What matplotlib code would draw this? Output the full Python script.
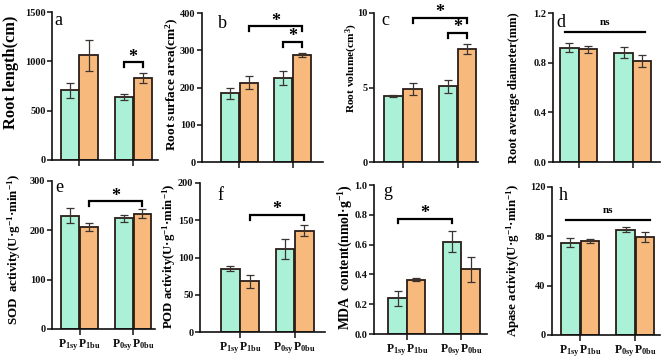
import numpy as np
import matplotlib
matplotlib.use('Agg')
import matplotlib.pyplot as plt

plt.rcParams['font.family'] = ['Liberation Serif', 'DejaVu Serif']
plt.rcParams['font.weight'] = 'bold'
plt.rcParams['mathtext.fontset'] = 'custom'
plt.rcParams['mathtext.rm'] = 'Liberation Serif'
plt.rcParams['mathtext.bf'] = 'Liberation Serif:bold'
plt.rcParams['mathtext.it'] = 'Liberation Serif:italic'

# ---------------- data ----------------
groups = ['P1', 'P0']
xtick_labels = [r'$\mathbf{P}_{\mathrm{1sy}}\,\mathbf{P}_{\mathrm{1bu}}$',
                r'$\mathbf{P}_{\mathrm{0sy}}\,\mathbf{P}_{\mathrm{0bu}}$']
panel_letters = ['a', 'b', 'c', 'd', 'e', 'f', 'g', 'h']

ylabels = ['Root length(cm)',
           r'Root surface area(cm$^{\mathbf{2}}$)',
           r'Root volume(cm$^{\mathbf{3}}$)',
           'Root average diameter(mm)',
           r'SOD  activity(U·g$^{\mathbf{-1}}$·min$^{\mathbf{-1}}$)',
           r'POD activity(U·g$^{\mathbf{-1}}$·min$^{\mathbf{-1}}$)',
           r'MDA  content(nmol·g$^{\mathbf{-1}}$)',
           r'Apase activity(U·g$^{\mathbf{-1}}$·min$^{\mathbf{-1}}$)']

sy_vals = [[709, 642], [184, 226], [4.46, 5.07], [0.921, 0.88],
           [230, 224], [85, 111], [0.24, 0.62], [75, 85.5]]
bu_vals = [[1061, 828], [213, 287], [4.89, 7.6], [0.908, 0.813],
           [207, 234], [68, 136], [0.365, 0.434], [76.5, 79.5]]
sy_errs = [[76, 29], [16, 18], [0.07, 0.42], [0.035, 0.046],
           [16, 8], [3, 13.5], [0.05, 0.073], [4, 2]]
bu_errs = [[160, 50], [17, 5], [0.38, 0.34], [0.03, 0.046],
           [8, 9], [9, 7], [0.01, 0.084], [1.5, 4]]

yticks = [[0, 500, 1000, 1500], [0, 100, 200, 300, 400], [0, 5, 10],
          [0.0, 0.4, 0.8, 1.2], [0, 100, 200, 300], [0, 50, 100, 150, 200],
          [0.0, 0.2, 0.4, 0.6, 0.8, 1.0], [0, 40, 80, 120]]
yfmt = ['{:.0f}', '{:.0f}', '{:.0f}', '{:.1f}', '{:.0f}', '{:.0f}', '{:.1f}', '{:.0f}']

# significance brackets: (bar index i, bar index j, height)
brackets = [[(2, 3, 990)],
            [(1, 3, 364), (2, 3, 322)],
            [(1, 3, 9.66), (2, 3, 8.65)],
            [],
            [(1, 3, 259)],
            [(1, 3, 157)],
            [(0, 2, 0.772)],
            []]
# 'ns' lines: (x start, x end, height)
ns_lines = [None, None, None, (-0.25, 1.22, 1.05), None, None, None, (-0.25, 1.27, 93.6)]

# ---------------- layout ----------------
W, H = 669, 359
boxes = [(52, 12, 158, 160), (202, 13, 323, 162), (374, 13, 478, 162), (553, 13, 660, 162),
         (52, 181, 155, 329), (200, 183, 325, 332), (374, 185, 487, 334), (552, 187, 660, 335)]
xlims = [(-0.5, 1.46), (-0.69, 1.56), (-0.53, 1.37), (-0.48, 1.5),
         (-0.52, 1.41), (-0.73, 1.55), (-0.61, 1.48), (-0.51, 1.45)]
ylabel_pos = [(11, 72, 11.8), (172, 84, 9.6), (352, 68, 8.2), (514, 88, 9.0),
              (14, 250, 9.4), (169, 256, 9.2), (346, 257, 9.9), (513, 260, 9.3)]
letter_pos = [(58, 25), (222, 28), (385, 25), (561, 27),
              (59, 192), (220, 200), (388, 196), (563, 200)]

green = '#aaf1d7'
orange = '#f8b97d'
edge = '#2a1e18'
errc = '#3a3330'

fig = plt.figure(figsize=(W / 100, H / 100), dpi=100)

def rect(l, t, r, b):
    return [l / W, 1 - b / H, (r - l) / W, (b - t) / H]

off = 0.175
bw = 0.335
x = np.arange(len(groups))

for k in range(8):
    ax = fig.add_axes(rect(*boxes[k]))
    xs_sy = x - off
    xs_bu = x + off
    ax.bar(xs_sy, sy_vals[k], bw, color=green, edgecolor=edge, linewidth=1.3, zorder=2)
    ax.bar(xs_bu, bu_vals[k], bw, color=orange, edgecolor=edge, linewidth=1.3, zorder=2)
    ax.errorbar(xs_sy, sy_vals[k], yerr=sy_errs[k], fmt='none', ecolor=errc,
                elinewidth=0.9, capsize=3.2, capthick=0.9, zorder=3)
    ax.errorbar(xs_bu, bu_vals[k], yerr=bu_errs[k], fmt='none', ecolor=errc,
                elinewidth=0.9, capsize=3.2, capthick=0.9, zorder=3)

    yt = yticks[k]
    ax.set_ylim(yt[0], yt[-1])
    ax.set_xlim(*xlims[k])
    ax.set_yticks(yt)
    ax.set_yticklabels([yfmt[k].format(v) for v in yt], fontsize=7.5, fontweight='bold')
    ax.set_xticks(x)
    if k >= 4:
        ax.set_xticklabels(xtick_labels, fontsize=8.5)
    else:
        ax.set_xticklabels([])
    for s in ['top', 'right']:
        ax.spines[s].set_visible(False)
    for s in ['left', 'bottom']:
        ax.spines[s].set_linewidth(1.2)
        ax.spines[s].set_color('#111111')
    ax.tick_params(axis='y', direction='out', length=3.5, width=1.1, pad=1.2, colors='#111111')
    ax.tick_params(axis='x', direction='out', length=4, width=1.1, pad=2, colors='#111111')

    yr = yt[-1] - yt[0]
    px = yr / (boxes[k][3] - boxes[k][1])
    barx = [x[0] - off, x[0] + off, x[1] - off, x[1] + off]
    for (i, j, yb) in brackets[k]:
        ax.plot([barx[i], barx[i], barx[j], barx[j]],
                [yb - 4.5 * px, yb, yb, yb - 4.5 * px],
                color='black', lw=1.6, clip_on=False, solid_joinstyle='miter', zorder=4)
        ax.annotate('*', xy=((barx[i] + barx[j]) / 2, yb), xytext=(0, 0.5),
                    textcoords='offset points', ha='center', va='baseline',
                    fontsize=13, fontweight='bold', annotation_clip=False)
    if ns_lines[k] is not None:
        x0, x1, yn = ns_lines[k]
        ax.plot([x0, x1], [yn, yn], color='black', lw=1.6, clip_on=False, zorder=4)
        ax.annotate('ns', xy=((x0 + x1) / 2, yn), xytext=(0, 5),
                    textcoords='offset points', ha='center', va='baseline',
                    fontsize=8, fontweight='bold', annotation_clip=False)

    lx, ly, fs = ylabel_pos[k]
    fig.text(lx / W, 1 - ly / H, ylabels[k], rotation=90, ha='center', va='center',
             fontsize=fs, fontweight='bold')
    tx, ty = letter_pos[k]
    fig.text(tx / W, 1 - ty / H, panel_letters[k], ha='center', va='baseline',
             fontsize=13, fontweight='normal')

fig.savefig('out.png', dpi=100)
